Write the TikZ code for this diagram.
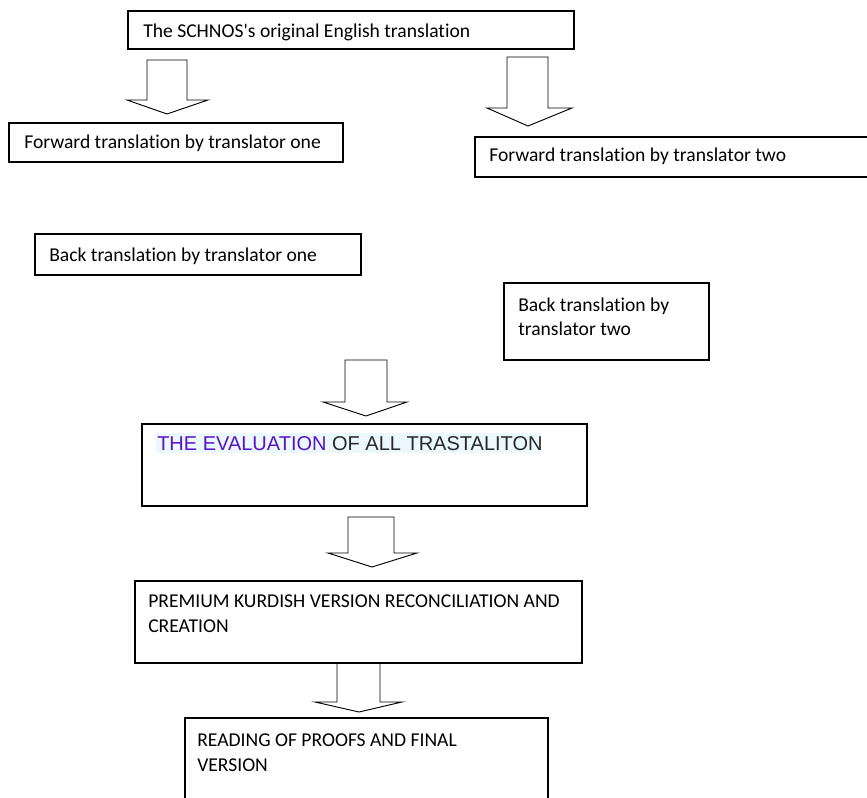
\documentclass[tikz,border=0pt]{standalone}
\usepackage{fontspec}
\setmainfont{Carlito}[Ligatures=NoCommon]
\newfontfamily\arialfont{Liberation Sans}
\definecolor{evalpurple}{RGB}{88,20,200}
\definecolor{evalgray}{RGB}{40,40,40}
\definecolor{marklight}{RGB}{235,248,254}

\begin{document}
\begin{tikzpicture}[x=0.75pt,y=0.75pt,yscale=-1,xscale=1,
  boxline/.style={line width=0.9},
  blockarrow/.style={line width=0.7},
  boxtext/.style={anchor=base west,inner sep=0pt,align=left,font=\fontsize{14.7}{18.6}\selectfont}]
%set diagram left start at 0, and has height of 798
\useasboundingbox (0,0) rectangle (867,798);

%Shape: Rectangle [id:dp7310254]
\draw [boxline] (128,11) -- (574,11) -- (574,49) -- (128,49) -- cycle ;
\draw (143,38) node [boxtext] (orig) {The SCHNOS\textquotesingle s original English translation};

%Down Arrow [id:dp1184207]
\draw [blockarrow] (147,60) -- (187,60) -- (187,100) -- (208,100) -- (167,114) -- (127,100) -- (147,100) -- cycle ;
%Down Arrow [id:dp5520931]
\draw [blockarrow] (507,57) -- (548,57) -- (548,108) -- (572,108) -- (528,126) -- (487,108) -- (507,108) -- cycle ;

%Shape: Rectangle [id:dp2946618]
\draw [boxline] (9,123) -- (343,123) -- (343,162) -- (9,162) -- cycle ;
\draw (24,149) node [boxtext] (fwdone) {Forward translation by translator one};

%Shape: Rectangle [id:dp6603172]
\draw [boxline] (872,137) -- (475,137) -- (475,177) -- (872,177) ;
\draw (489,162) node [boxtext] (fwdtwo) {Forward translation by translator two};

%Shape: Rectangle [id:dp0419385]
\draw [boxline] (35,234) -- (361,234) -- (361,275) -- (35,275) -- cycle ;
\draw (49,262) node [boxtext] (backone) {Back translation by translator one};

%Shape: Rectangle [id:dp8871523]
\draw [boxline] (504,283) -- (709,283) -- (709,360) -- (504,360) -- cycle ;
\draw (518,336) node [boxtext] (backtwo) {Back translation by\\translator two};

%Down Arrow [id:dp3302716]
\draw [blockarrow] (345,360) -- (387,360) -- (387,402) -- (407,402) -- (366,416) -- (323,402) -- (345,402) -- cycle ;

%Shape: Rectangle [id:dp4478250]
\draw [boxline] (142,424) -- (587,424) -- (587,506) -- (142,506) -- cycle ;
\fill [marklight] (156,433) rectangle (541,453) ;
\draw (157,450) node [boxtext,font=\arialfont\fontsize{15}{18}\selectfont] (evaluation) {\textcolor{evalpurple}{THE EVALUATION} \textcolor{evalgray}{OF ALL TRASTALITON}};

%Down Arrow [id:dp9127734]
\draw [blockarrow] (348,517) -- (394,517) -- (394,553) -- (417,553) -- (372,567) -- (328,553) -- (348,553) -- cycle ;

%Shape: Rectangle [id:dp0657381]
\draw [boxline] (135,581) -- (582,581) -- (582,663) -- (135,663) -- cycle ;
\draw (148,632) node [boxtext] (premium) {PREMIUM KURDISH VERSION RECONCILIATION AND\\CREATION};

%Down Arrow [id:dp5260449]
\draw [blockarrow] (337,663) -- (380,663) -- (380,702) -- (402,702) -- (359,712) -- (315,702) -- (337,702) -- cycle ;

%Shape: Rectangle [id:dp3815096]
\draw [boxline] (185,803) -- (185,718) -- (548,718) -- (548,803) ;
\draw (197,771) node [boxtext] (final) {READING OF PROOFS AND FINAL\\VERSION};

\end{tikzpicture}
\end{document}
